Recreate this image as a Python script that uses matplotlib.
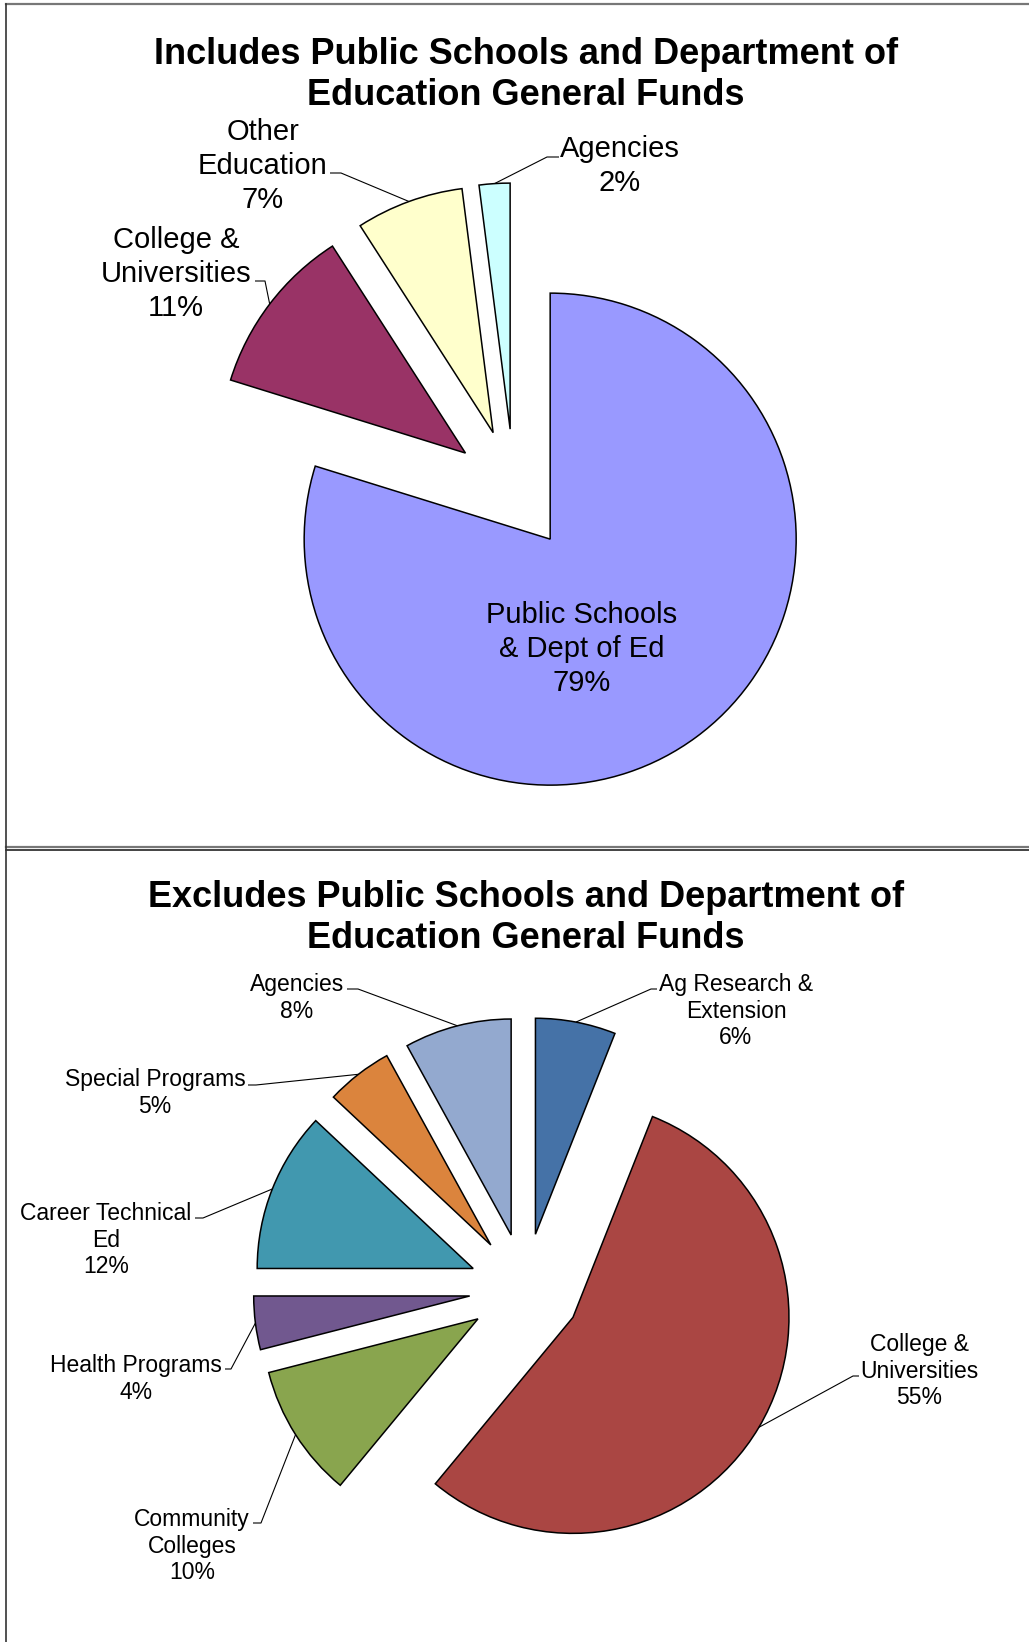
import matplotlib
matplotlib.use("Agg")
import matplotlib.pyplot as plt
import numpy as np

# Canvas size in pixels; all drawing below uses pixel-based data units (y up)
W, H = 1029, 1642
DPI = 100

# ---- data -------------------------------------------------------------
top_title = "Includes Public Schools and Department of\nEducation General Funds"
top_names = ["Public Schools\n& Dept of Ed", "College &\nUniversities",
             "Other\nEducation", "Agencies"]
top_values = [79, 11, 7, 2]
top_colors = ["#9999FF", "#993366", "#FFFFCC", "#CCFFFF"]

bottom_title = "Excludes Public Schools and Department of\nEducation General Funds"
bottom_names = ["Ag Research &\nExtension", "College &\nUniversities",
                "Community\nColleges", "Health Programs",
                "Career Technical\nEd", "Special Programs", "Agencies"]
bottom_values = [6, 55, 10, 4, 12, 5, 8]
bottom_colors = ["#4572A7", "#AA4643", "#89A54E", "#71588F",
                 "#4198AF", "#DB843D", "#93A9CF"]

# ---- layout (pixel positions measured from the top-left corner) --------
# label centre, and leader stub (start x, bend x, y); None = no leader
top_label_pos = [(582, 649), (176, 274), (263, 166), (620, 166)]
top_leaders = [None, (255, 265, 281), (330, 341, 173), (559, 547, 157)]

bottom_label_pos = [(736, 1011), (919, 1371), (192, 1546), (136, 1379),
                    (106, 1240), (155, 1093), (297, 998)]
bottom_leaders = [(657, 651, 989), (859, 853, 1376), (253, 261, 1523),
                  (225, 231, 1369), (195, 203, 1218), (248, 256, 1085),
                  (347, 358, 989)]

FONT = "Liberation Sans"

fig = plt.figure(figsize=(W / DPI, H / DPI), dpi=DPI)
ax = fig.add_axes([0, 0, 1, 1])


def fy(y):
    """Convert a top-down pixel row to the y-up data coordinate."""
    return H - y


def draw_pie(values, colors, names, center, radius, explode_frac,
             label_pos, leaders, fontsize, linespacing):
    wedges, _ = ax.pie(values, colors=colors, startangle=90, counterclock=False,
                       radius=radius, center=(center[0], fy(center[1])),
                       explode=[explode_frac * radius] * len(values),
                       wedgeprops=dict(edgecolor="black", linewidth=1.1))
    for w, name, v, (tx, ty), lead in zip(wedges, names, values, label_pos, leaders):
        ax.text(tx, fy(ty), f"{name}\n{v}%", ha="center", va="center",
                multialignment="center", fontsize=fontsize, family=FONT,
                linespacing=linespacing, zorder=5)
        if lead is None:
            continue
        mid = np.deg2rad(0.5 * (w.theta1 + w.theta2))
        ex = w.center[0] + w.r * np.cos(mid)
        ey = w.center[1] + w.r * np.sin(mid)
        x0, x1, sy = lead
        ax.plot([x0, x1, ex], [fy(sy), fy(sy), ey], color="black",
                linewidth=0.8, solid_capstyle="butt", zorder=4)


draw_pie(top_values, top_colors, top_names, center=(514, 490), radius=246,
         explode_frac=0.248, label_pos=top_label_pos, leaders=top_leaders,
         fontsize=21, linespacing=1.27)
draw_pie(bottom_values, bottom_colors, bottom_names, center=(525, 1289),
         radius=216, explode_frac=0.258, label_pos=bottom_label_pos,
         leaders=bottom_leaders, fontsize=16.5, linespacing=1.21)

# titles
ax.text(526, fy(75), top_title, ha="center", va="center", fontsize=26,
        fontweight="bold", family=FONT, linespacing=1.22)
ax.text(526, fy(918), bottom_title, ha="center", va="center", fontsize=26,
        fontweight="bold", family=FONT, linespacing=1.22)

# panel frames
ax.plot([6, W + 5], [fy(4), fy(4)], color="#777777", linewidth=1.6)
ax.plot([6, W + 5], [fy(847), fy(847)], color="#777777", linewidth=1.6)
ax.plot([6, W + 5], [fy(849.5), fy(849.5)], color="#222222", linewidth=1.2)
ax.plot([6.3, 6.3], [fy(4), fy(H + 5)], color="#333333", linewidth=1.2)

ax.set_xlim(0, W)
ax.set_ylim(0, H)
ax.set_aspect("auto")
ax.axis("off")

fig.savefig("out.png", dpi=DPI, facecolor="white")
